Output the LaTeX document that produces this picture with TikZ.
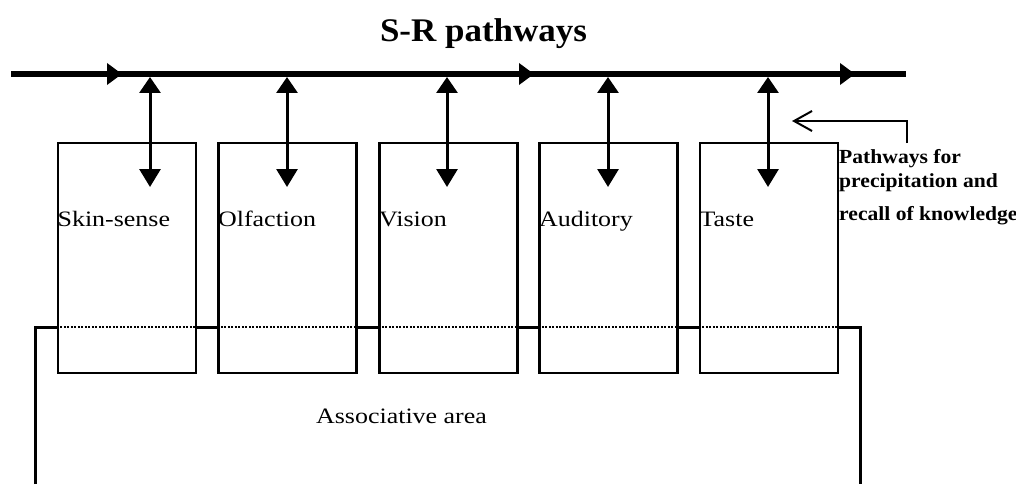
\documentclass[tikz,border=0pt]{standalone}
\usepackage{fontspec}
\setmainfont{Liberation Serif}
\newfontfamily\boxfont[FakeStretch=1.18]{Liberation Serif}
\newfontfamily\notefont[FakeStretch=1.08]{Liberation Serif}
\newfontfamily\headfont[FakeStretch=1.06]{Liberation Serif}
\usetikzlibrary{arrows.meta,decorations.markings}

\tikzset{
  mainline/.style={line width=6pt, line cap=butt,
    decoration={markings,
      mark=at position 111pt with {\arrow{Triangle[length=15pt,width=21pt]}},
      mark=at position 523pt with {\arrow{Triangle[length=15pt,width=21pt]}},
      mark=at position 844pt with {\arrow{Triangle[length=15pt,width=21pt]}}},
    postaction={decorate}},
  link/.style={line width=3pt,
    {Triangle[length=16pt,width=21pt]}-{Triangle[length=18pt,width=21pt]}},
  sensebox/.style={draw, line width=2.2pt, fill=white, inner sep=0pt,
    minimum width=138pt, minimum height=230pt},
  arealine/.style={line width=3pt, line join=miter},
  dotline/.style={line width=2pt, dash pattern=on 2pt off 1.5pt},
  lbl/.style={inner sep=0pt, font=\boxfont\fontsize{22pt}{26pt}\selectfont},
  note/.style={inner sep=0pt, anchor=base west,
    font=\notefont\bfseries\fontsize{20pt}{24pt}\selectfont},
  ttl/.style={inner sep=0pt, font=\headfont\bfseries\fontsize{33pt}{38pt}\selectfont},
  pointer/.style={line width=2pt, line join=miter,
    -{Straight Barb[length=18pt,width=20pt]}}
}

\begin{document}
\begin{tikzpicture}[x=1pt,y=-1pt]
\path[use as bounding box, fill=white] (0,0) rectangle (1016,484);

% title
\node[ttl, anchor=base] (title) at (483.5,42) {S-R pathways};

% stimulus-response pathway
\coordinate (srL) at (11,74);
\coordinate (srR) at (906,74);
\draw[mainline] (srL) -- (srR);

% associative area outline (open at the bottom)
\coordinate (aBL) at (35,484);
\coordinate (aTL) at (35,327);
\coordinate (aTR) at (860,327);
\coordinate (aBR) at (860,484);
\draw[arealine] (aBL) -- (aTL) -- (aTR) -- (aBR);

% sense areas
\node[sensebox] (b1) at (127,258) {};
\node[sensebox] (b2) at (287.5,258) {};
\node[sensebox] (b3) at (448.5,258) {};
\node[sensebox] (b4) at (608.5,258) {};
\node[sensebox] (b5) at (769,258) {};

% the associative boundary running through each sense area
\foreach \b in {b1,b2,b3,b4,b5}{
  \draw[dotline] (\b.west |- aTL) -- (\b.east |- aTL);
}

% sense labels
\node[lbl, anchor=base west] (l1) at ([xshift=0.5pt]b1.west |- 0,226) {Skin-sense};
\node[lbl, anchor=base west] (l2) at ([xshift=0.5pt]b2.west |- 0,226) {Olfaction};
\node[lbl, anchor=base west] (l3) at ([xshift=0.5pt]b3.west |- 0,226) {Vision};
\node[lbl, anchor=base west] (l4) at ([xshift=0.5pt]b4.west |- 0,226) {Auditory};
\node[lbl, anchor=base west] (l5) at ([xshift=0.5pt]b5.west |- 0,226) {Taste};

% two-way links between the pathway and each sense area
\foreach \i/\x in {1/150,2/287,3/447,4/608,5/768}{
  \coordinate (u\i) at (\x,77);
  \coordinate (d\i) at (\x,187);
  \draw[link] (u\i) -- (d\i);
}

% pointer to the precipitation and recall pathways
\coordinate (p0) at (907,143);
\coordinate (p1) at (907,121);
\coordinate (p2) at (792,121);
\draw[pointer] (p0) -- (p1) -- (p2);

\node[note] (n1) at (839,163) {Pathways for};
\node[note] (n2) at (839,187) {precipitation and};
\node[note] (n3) at (839,220) {recall of knowledge};

% associative area label
\node[lbl, anchor=base] (assoc) at (401.5,423) {Associative area};
\end{tikzpicture}
\end{document}
